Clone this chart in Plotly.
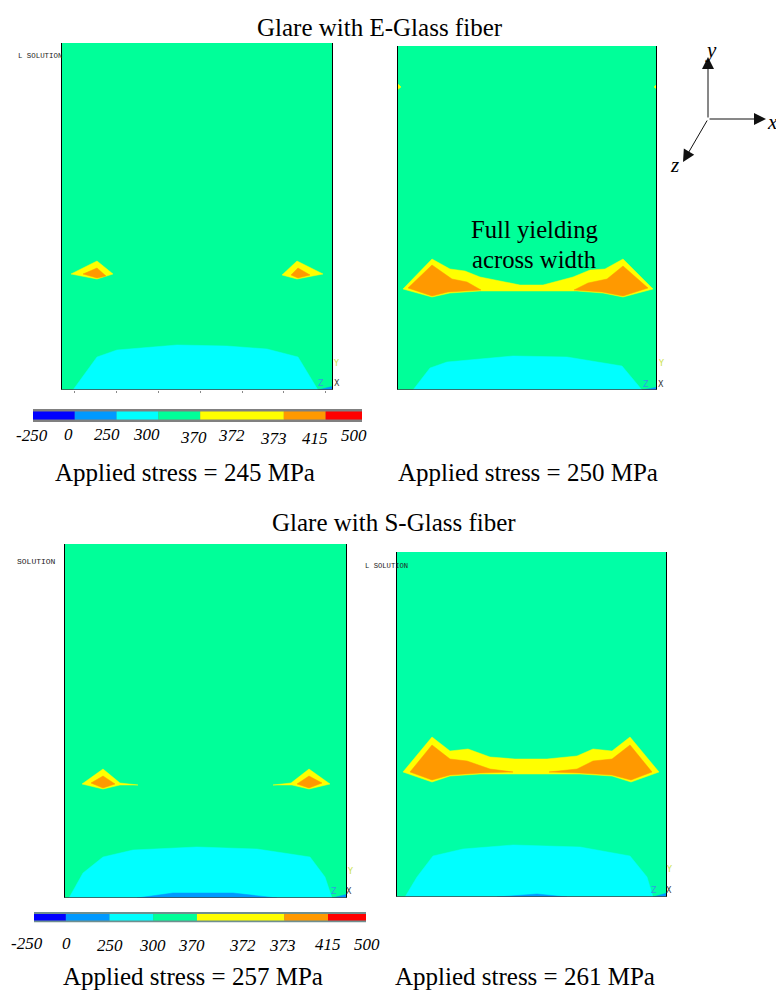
import plotly.graph_objects as go

PAGE_W, PAGE_H = 776, 992

# Contour outlines read from the picture, as (x, y) in model pixels measured
# from each panel's lower-left corner.
e245_cyan_x = [12, 36, 56, 116, 166, 206, 237, 257]
e245_cyan_y = [0, 33, 40, 45, 44, 41, 33, 0]
e245_blue_x = [257, 273, 273]
e245_blue_y = [0, 4, 0]
e245_yellow_l_x = [10, 36, 52, 36]
e245_yellow_l_y = [116, 129, 116, 111]
e245_orange_l_x = [22, 36, 45, 36]
e245_orange_l_y = [116, 122, 114, 112]
e245_yellow_r_x = [221, 236, 262, 236]
e245_yellow_r_y = [115, 129, 116, 111]
e245_orange_r_x = [230, 237, 249, 237]
e245_orange_r_y = [115, 122, 115, 112]

e250_cyan_x = [16, 33, 50, 116, 170, 225, 245]
e250_cyan_y = [0, 22, 28, 34, 33, 24, 0]
e250_blue_x = [245, 261, 261]
e250_blue_y = [0, 3, 0]
e250_yellow_x = [6, 35, 53, 68, 83, 123, 146, 176, 193, 208, 226, 256, 226, 206, 180, 83, 53, 35]
e250_yellow_y = [101, 131, 121, 119, 113, 105, 105, 113, 120, 121, 131, 101, 93, 97, 99, 99, 97, 93]
e250_orange_l_x = [11, 35, 55, 70, 84, 51, 35]
e250_orange_l_y = [102, 125, 111, 108, 100, 98, 94]
e250_orange_r_x = [177, 191, 210, 226, 251, 226, 205]
e250_orange_r_y = [100, 107, 111, 124, 102, 94, 98]
e250_blob_l_x = [0, 4, 0]
e250_blob_l_y = [300, 303, 307]
e250_blob_r_x = [261, 257, 261]
e250_blob_r_y = [300, 303, 307]

s257_cyan_x = [5, 19, 39, 69, 133, 193, 246, 261, 268]
s257_cyan_y = [0, 25, 41, 48, 51, 49, 41, 21, 0]
s257_blue_x = [73, 109, 169, 213]
s257_blue_y = [0, 5, 5, 0]
s257_corner_x = [268, 284, 284]
s257_corner_y = [0, 4, 0]
s257_yellow_l_x = [18, 39, 56, 74, 56, 39]
s257_yellow_l_y = [114, 129, 115, 113, 113, 109]
s257_orange_l_x = [27, 39, 51, 39]
s257_orange_l_y = [115, 122, 114, 110]
s257_yellow_r_x = [209, 227, 245, 266, 245, 228]
s257_yellow_r_y = [113, 115, 129, 114, 109, 113]
s257_orange_r_x = [233, 245, 258, 245]
s257_orange_r_y = [114, 122, 115, 110]

s261_cyan_x = [9, 21, 37, 67, 117, 184, 234, 251, 257]
s261_cyan_y = [0, 20, 41, 48, 52, 50, 41, 20, 0]
s261_blue_x = [101, 141, 171]
s261_blue_y = [0, 3, 0]
s261_corner_x = [257, 271, 271]
s261_corner_y = [0, 4, 0]
s261_yellow_x = [7, 36, 54, 72, 94, 119, 151, 181, 197, 216, 234, 263, 235, 216, 184, 84, 54, 36]
s261_yellow_y = [125, 160, 146, 148, 140, 138, 138, 141, 148, 146, 160, 125, 115, 121, 123, 123, 121, 115]
s261_orange_l_x = [14, 36, 54, 71, 94, 117, 84, 54, 36]
s261_orange_l_y = [125, 152, 138, 136, 128, 125, 124, 122, 117]
s261_orange_r_x = [153, 181, 197, 216, 234, 256, 235, 216, 184]
s261_orange_r_y = [125, 128, 136, 138, 152, 125, 117, 122, 124]

# Colour legend
legend_levels = ["-250", "0", "250", "300", "370", "372", "373", "415", "500"]
legend_colors = ["#0000FF", "#0099FF", "#00FFFF", "#00FF99", "#FFFF00", "#FF9900", "#FF0000"]
legend_edges_top = [0, 1, 2, 3, 4, 6, 7, 7.87]
legend_edges_bottom = [0.27, 1, 2, 3, 4, 6, 7, 7.87]

BLUE, AZURE, CYAN, GREEN, YELLOW, ORANGE, RED = legend_colors
SERIF = "Liberation Serif"
MONO = "Liberation Mono"

fig = go.Figure()


def poly(xname, yname, xs, ys, color):
    fig.add_trace(go.Scatter(x=xs + xs[:1], y=ys + ys[:1], xaxis=xname, yaxis=yname, mode="lines",
                             fill="toself", fillcolor=color, line=dict(color=color, width=0.5),
                             cliponaxis=False, hoverinfo="skip", showlegend=False))


def edge(xname, yname, xs, ys, color, width):
    fig.add_trace(go.Scatter(x=xs, y=ys, xaxis=xname, yaxis=yname, mode="lines",
                             line=dict(color=color, width=width), cliponaxis=False,
                             hoverinfo="skip", showlegend=False))


def add_panel(idx, left, bottom, width, height, bg, layers):
    xname, yname = f"x{idx}", f"y{idx}"
    fig.update_layout({
        f"xaxis{idx}": dict(domain=[left / PAGE_W, (left + width) / PAGE_W], range=[0, width], visible=False, fixedrange=True),
        f"yaxis{idx}": dict(domain=[1 - bottom / PAGE_H, 1 - (bottom - height) / PAGE_H], range=[0, height], visible=False, fixedrange=True),
    })
    poly(xname, yname, [0, width, width, 0], [0, 0, height, height], bg)
    for xs, ys, col in layers:
        poly(xname, yname, xs, ys, col)
    edge(xname, yname, [0, 0], [0, height], "#000000", 2)
    edge(xname, yname, [width, width], [0, height], "#000000", 2)
    edge(xname, yname, [0, width], [0, 0], "#444444", 1.6)
    # short yellow triad stem next to the lower right corner
    edge(xname, yname, [width + 1, width + 1], [8, 26], "#E8F060", 1)


add_panel(1, 61, 390, 272, 347, GREEN, [
    (e245_cyan_x, e245_cyan_y, CYAN), (e245_blue_x, e245_blue_y, AZURE),
    (e245_yellow_l_x, e245_yellow_l_y, YELLOW), (e245_orange_l_x, e245_orange_l_y, ORANGE),
    (e245_yellow_r_x, e245_yellow_r_y, YELLOW), (e245_orange_r_x, e245_orange_r_y, ORANGE)])
add_panel(2, 397, 390, 260, 344, GREEN, [
    (e250_cyan_x, e250_cyan_y, CYAN), (e250_blue_x, e250_blue_y, AZURE),
    (e250_yellow_x, e250_yellow_y, YELLOW), (e250_orange_l_x, e250_orange_l_y, ORANGE),
    (e250_orange_r_x, e250_orange_r_y, ORANGE), (e250_blob_l_x, e250_blob_l_y, YELLOW),
    (e250_blob_r_x, e250_blob_r_y, YELLOW)])
add_panel(3, 64, 898, 283, 354, GREEN, [
    (s257_cyan_x, s257_cyan_y, CYAN), (s257_blue_x, s257_blue_y, AZURE), (s257_corner_x, s257_corner_y, AZURE),
    (s257_yellow_l_x, s257_yellow_l_y, YELLOW), (s257_orange_l_x, s257_orange_l_y, ORANGE),
    (s257_yellow_r_x, s257_yellow_r_y, YELLOW), (s257_orange_r_x, s257_orange_r_y, ORANGE)])
add_panel(4, 396, 897, 271, 345, "#00FFA6", [
    (s261_cyan_x, s261_cyan_y, CYAN), (s261_blue_x, s261_blue_y, AZURE), (s261_corner_x, s261_corner_y, AZURE),
    (s261_yellow_x, s261_yellow_y, YELLOW), (s261_orange_l_x, s261_orange_l_y, ORANGE),
    (s261_orange_r_x, s261_orange_r_y, ORANGE)])


def add_legend(idx, left, right, top, bottom, edges, strip, ticks):
    xname, yname = f"x{idx}", f"y{idx}"
    fig.update_layout({
        f"xaxis{idx}": dict(domain=[left / PAGE_W, right / PAGE_W], range=[edges[0], edges[-1]], fixedrange=True,
                            showgrid=False, zeroline=False, showline=False, showticklabels=False,
                            ticks="outside" if ticks else "", ticklen=2, tickcolor="#888888",
                            tickvals=edges[1:-1] + [5]),
        f"yaxis{idx}": dict(domain=[1 - bottom / PAGE_H, 1 - top / PAGE_H], range=[0, 1], visible=False, fixedrange=True),
    })
    fig.add_trace(go.Bar(y=[0.5], base=[edges[0]], x=[edges[-1] - edges[0]], width=[1], orientation="h",
                         marker=dict(color=strip, line_width=0), xaxis=xname, yaxis=yname,
                         hoverinfo="skip", showlegend=False))
    widths = [b - a for a, b in zip(edges[:-1], edges[1:])]
    fig.add_trace(go.Bar(y=[0.5] * len(widths), base=edges[:-1], x=widths, width=[0.62] * len(widths), orientation="h",
                         marker=dict(color=legend_colors, line_width=0), xaxis=xname, yaxis=yname,
                         hoverinfo="skip", showlegend=False))


add_legend(5, 33, 362, 409, 422, legend_edges_top, "#808080", True)
add_legend(6, 34, 366, 912, 922.5, legend_edges_bottom, "#6f8f8f", False)
# dark red stub that overhangs the lower legend
fig.add_trace(go.Bar(y=[0.1], base=[legend_edges_bottom[-1]], x=[0.14], width=[0.4], orientation="h",
                     marker=dict(color="#B02020", line_width=0), xaxis="x6", yaxis="y6",
                     cliponaxis=False, hoverinfo="skip", showlegend=False))

ann = []


def text(s, x, y, size, font=SERIF, color="#000000", italic=False):
    if italic:
        s = f"<i>{s}</i>"
    ann.append(dict(text=s, x=x / PAGE_W, y=1 - y / PAGE_H, xref="paper", yref="paper", showarrow=False,
                    xanchor="center", yanchor="middle", font=dict(family=font, size=size, color=color)))


text("Glare with E-Glass fiber", 380, 27, 25)
text("Glare with S-Glass fiber", 394, 522, 25)
text("Applied stress = 245 MPa", 185, 472, 25)
text("Applied stress = 250 MPa", 528, 472, 25)
text("Applied stress = 257 MPa", 193, 976, 25)
text("Applied stress = 261 MPa", 525, 976, 25)
text("Full yielding", 534, 229, 24.7)
text("across width", 534, 259, 24.7)

top_label_x = [32, 68, 107, 146, 193, 231, 273, 315, 354]
top_label_y = [435, 434, 434, 434, 437, 436, 438, 438, 436]
bot_label_x = [27, 66, 110, 152, 191, 242, 282, 328, 367]
bot_label_y = [943, 943, 945, 945, 945, 945, 945, 944, 944]
for lab, x, y in zip(legend_levels, top_label_x, top_label_y):
    text(lab, x, y, 17, italic=True)
for lab, x, y in zip(legend_levels, bot_label_x, bot_label_y):
    text(lab, x, y, 17, italic=True)

text("L SOLUTION", 40, 56, 7.4, font=MONO, color="#222222")
text("SOLUTION", 36, 561, 8, font=MONO, color="#222222")
text("L SOLUTION", 386, 566, 7.2, font=MONO, color="#222222")

for x_y, x_z, x_x, yy, yz in [(336, 321, 337, 363, 383), (661, 646, 661, 363, 384),
                              (350, 334, 349, 871, 891), (669, 654, 669, 869, 890)]:
    text("Y", x_y, yy, 8, color="#C8E040", font="DejaVu Sans")
    text("Z", x_z, yz, 8, color="#30A0E0", font="DejaVu Sans")
    text("X", x_x, yz, 8, color="#333333", font="DejaVu Sans")

# coordinate triad
for hx, hy, ox, oy in [(708, 57, 708, 119), (766, 119, 708, 119), (683, 162, 708, 119)]:
    ann.append(dict(x=hx / PAGE_W, y=1 - hy / PAGE_H, xref="paper", yref="paper", text="", showarrow=True,
                    ax=ox - hx, ay=oy - hy, arrowhead=2, arrowsize=2.4, arrowwidth=1, arrowcolor="#111111",
                    standoff=0, startstandoff=0))
text("y", 711, 50, 21, italic=True)
text("x", 772, 122, 21, italic=True)
text("z", 674, 165, 21, italic=True)

fig.update_layout(width=PAGE_W, height=PAGE_H, margin=dict(l=0, r=0, t=0, b=0, pad=0),
                  paper_bgcolor="#FFFFFF", plot_bgcolor="rgba(0,0,0,0)", barmode="overlay",
                  showlegend=False, annotations=ann)

fig.write_html("out.html", config=dict(displayModeBar=False),
               post_script="document.body.style.margin='0';document.documentElement.style.overflow='hidden';")
